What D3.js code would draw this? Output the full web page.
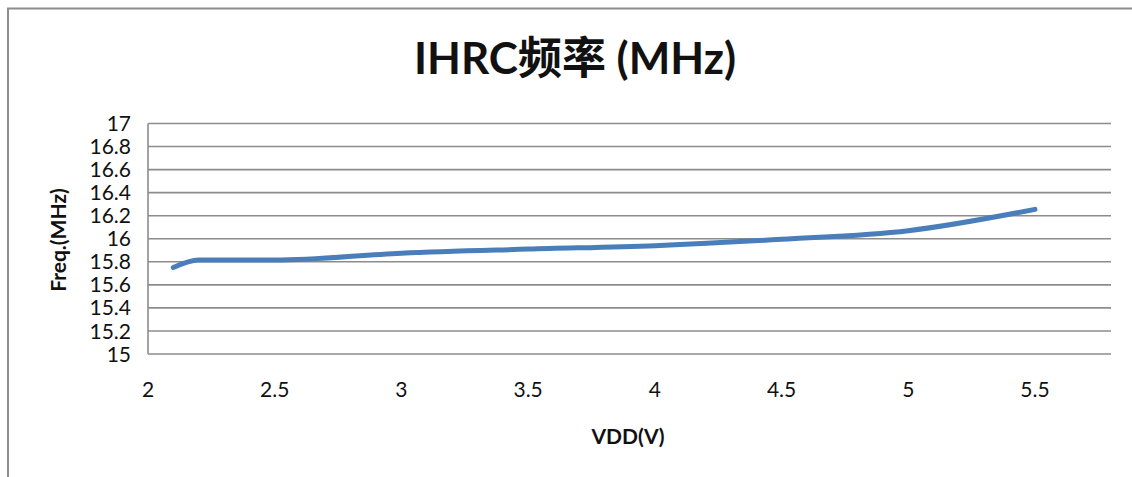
<!DOCTYPE html>
<html><head><meta charset="utf-8">
<script src="https://cdn.jsdelivr.net/npm/d3@7"></script>
<style>
html,body{margin:0;padding:0;background:#fff;}
text{font-family:Lato,"Noto Sans CJK SC",sans-serif;}
</style></head>
<body>
<svg id="c" width="1132" height="477"></svg>
<script>
const vdd = [2.1, 2.2, 2.5, 3.0, 3.5, 4.0, 4.5, 5.0, 5.5];
const freq = [15.75, 15.815, 15.815, 15.875, 15.91, 15.94, 15.995, 16.07, 16.255];
const xTicks = [2, 2.5, 3, 3.5, 4, 4.5, 5, 5.5];
const yTicks = [15, 15.2, 15.4, 15.6, 15.8, 16, 16.2, 16.4, 16.6, 16.8, 17];
const title = "IHRC频率 (MHz)";
const xTitle = "VDD(V)";
const yTitle = "Freq.(MHz)";

const svg = d3.select("#c");
const L = 148, R = 1111, T = 123.5, B = 354;
const x = d3.scaleLinear().domain([2, 5.8]).range([L, R]);
const y = d3.scaleLinear().domain([15, 17]).range([B, T]);

// outer chart border
svg.append("path").attr("d", `M8,477 V8.5 H1132`).attr("fill","none")
  .attr("stroke","#8c8c8c").attr("stroke-width",2);

// gridlines
svg.append("g").selectAll("line").data(yTicks).join("line")
  .attr("x1", L).attr("x2", R).attr("y1", d=>y(d)).attr("y2", d=>y(d))
  .attr("stroke","#8c8c8c").attr("stroke-width",1.6);
// left axis line
svg.append("line").attr("x1",L).attr("x2",L).attr("y1",T).attr("y2",B)
  .attr("stroke","#8c8c8c").attr("stroke-width",1.6);

// y tick labels
svg.append("g").selectAll("text").data(yTicks).join("text")
  .attr("x", 131).attr("y", d=>y(d)).attr("dy","0.36em")
  .attr("text-anchor","end").attr("font-size",21).attr("fill","#111")
  .text(d=>d3.format("")(d));
// x tick labels
svg.append("g").selectAll("text").data(xTicks).join("text")
  .attr("x", d=>x(d)).attr("y", 389).attr("dy","0.36em")
  .attr("text-anchor","middle").attr("font-size",21).attr("fill","#111")
  .text(d=>d);

// line
const line = d3.line().x(d=>x(d[0])).y(d=>y(d[1])).curve(d3.curveMonotoneX);
svg.append("path").datum(vdd.map((v,i)=>[v,freq[i]]))
  .attr("d", line).attr("fill","none").attr("stroke","#4a7ebb")
  .attr("stroke-width",5).attr("stroke-linecap","round").attr("stroke-linejoin","round");

// titles
svg.append("text").attr("x", 575).attr("y", 74).attr("text-anchor","middle")
  .attr("font-size",44).attr("font-weight","bold").attr("fill","#111").text(title);
svg.append("text").attr("x", 628).attr("y", 436).attr("dy","0.36em").attr("text-anchor","middle")
  .attr("font-size",21).attr("font-weight","bold").attr("fill","#111").text(xTitle);
svg.append("text").attr("transform","translate(58,240) rotate(-90)").attr("dy","0.36em")
  .attr("text-anchor","middle").attr("font-size",21).attr("font-weight","bold").attr("fill","#111").text(yTitle);
</script>
</body></html>
